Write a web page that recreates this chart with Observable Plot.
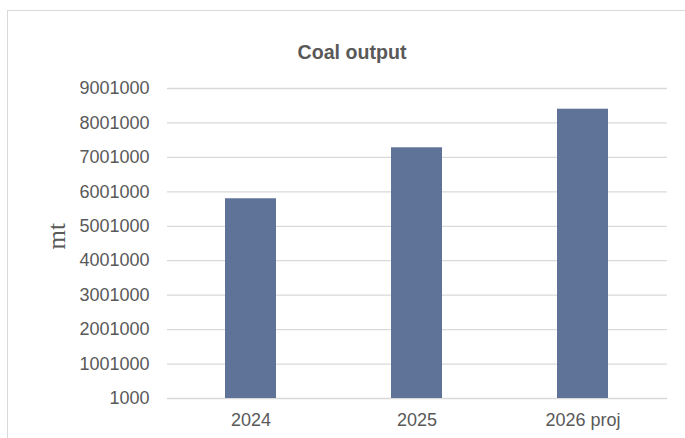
<!DOCTYPE html>
<html>
<head>
<meta charset="utf-8">
<script src="https://cdn.jsdelivr.net/npm/d3@7"></script>
<script src="https://cdn.jsdelivr.net/npm/@observablehq/plot@0.6"></script>
<style>
  html, body { margin: 0; padding: 0; background: #fff; }
  #wrap { position: relative; width: 685px; height: 438px; overflow: hidden; }
  #frame { position: absolute; left: 7px; top: 10px; width: 720px; height: 470px; border: 1px solid #d9d9d9; box-sizing: border-box; }
  #title { position: absolute; left: 0; width: 704px; top: 41px; line-height: 1; text-align: center;
           font: bold 19.6px "Liberation Sans", Arial, sans-serif; color: #595959; }
  #chart { position: absolute; left: 0; top: 0; }
</style>
</head>
<body>
<div id="wrap">
  <div id="frame"></div>
  <div id="chart"></div>
  <div id="title">Coal output</div>
</div>
<script>
// Coal output by year, in mt
const years = ["2024", "2025", "2026 proj"];
const output = [5800000, 7280000, 8400000];
const yTicks = [1000, 1001000, 2001000, 3001000, 4001000, 5001000, 6001000, 7001000, 8001000, 9001000];
const unitLabel = "mt";

const rows = years.map((year, i) => ({year, value: output[i]}));

const chart = Plot.plot({
  width: 685,
  height: 438,
  marginLeft: 167,
  marginRight: 18,
  marginTop: 88,
  marginBottom: 40,
  style: {
    fontFamily: '"Liberation Sans", Arial, sans-serif',
    fontSize: "18px",
    color: "#595959",
    background: "transparent",
    overflow: "visible"
  },
  x: {domain: years, paddingInner: 0.69, paddingOuter: 0.345, label: null, tickSize: 0, tickPadding: 15},
  y: {domain: [yTicks[0], yTicks[yTicks.length - 1]], ticks: yTicks, tickFormat: d => String(d), label: null, tickSize: 0, tickPadding: 18},
  marks: [
    Plot.ruleY(yTicks, {stroke: "#d9d9d9", strokeWidth: 1.3}),
    Plot.barY(rows, {x: "year", y1: yTicks[0], y2: "value", fill: "#5f7399"}),
    // rotated unit label to the left of the tick labels
    Plot.text([unitLabel], {frameAnchor: "left", dx: -111, dy: 6, rotate: -90, fontFamily: '"Liberation Serif", serif', fontSize: 25, fill: "#595959"})
  ]
});

document.getElementById("chart").appendChild(chart);
</script>
</body>
</html>
